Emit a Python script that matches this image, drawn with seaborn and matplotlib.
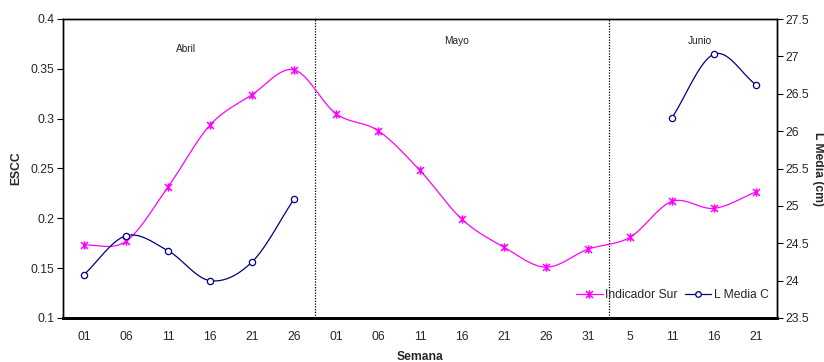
import numpy as np
import pandas as pd
import matplotlib
matplotlib.use("Agg")
import matplotlib.pyplot as plt
from matplotlib.path import Path
from matplotlib.lines import Line2D
import seaborn as sns

# Weeks grouped by month
semanas = ["01", "06", "11", "16", "21", "26",
           "01", "06", "11", "16", "21", "26", "31",
           "5", "11", "16", "21"]
meses = ["Abril", "Mayo", "Junio"]
mes_pos = [2.43, 8.86, 14.67]
mes_y = [0.370, 0.378, 0.378]

indicador_sur = [0.173, 0.177, 0.2315, 0.2935, 0.324, 0.349,
                 0.305, 0.288, 0.248, 0.199, 0.171, 0.151, 0.169,
                 0.181, 0.217, 0.210, 0.2265]
l_media_c = [24.08, 24.60, 24.40, 24.00, 24.25, 25.09,
             np.nan, np.nan, np.nan, np.nan, np.nan, np.nan, np.nan,
             np.nan, 26.18, 27.03, 26.62]

left_ticks = [0.1, 0.15, 0.2, 0.25, 0.3, 0.35, 0.4]
left_labels = ["0.1", "0.15", "0.2", "0.25", "0.3", "0.35", "0.4"]
right_ticks = [23.5, 24, 24.5, 25, 25.5, 26, 26.5, 27, 27.5]
right_labels = ["23.5", "24", "24.5", "25", "25.5", "26", "26.5", "27", "27.5"]

MAGENTA = "#FF00FF"
NAVY = "#000080"


def smooth_segment(x, y, n=24):
    """Cubic Hermite (Catmull-Rom) curve through evenly spaced points."""
    x = np.asarray(x, float)
    y = np.asarray(y, float)
    if len(x) < 2:
        return x, y
    m = np.empty_like(y)
    m[1:-1] = (y[2:] - y[:-2]) / 2.0
    m[0] = y[1] - y[0]
    m[-1] = y[-1] - y[-2]
    xs, ys = [], []
    for i in range(len(x) - 1):
        t = np.linspace(0, 1, n, endpoint=(i == len(x) - 2))
        h00 = 2 * t**3 - 3 * t**2 + 1
        h10 = t**3 - 2 * t**2 + t
        h01 = -2 * t**3 + 3 * t**2
        h11 = t**3 - t**2
        ys.append(h00 * y[i] + h10 * m[i] + h01 * y[i + 1] + h11 * m[i + 1])
        xs.append(x[i] + t * (x[i + 1] - x[i]))
    return np.concatenate(xs), np.concatenate(ys)


def smooth_series(values, series_name):
    """Split at gaps and smooth each run of valid points."""
    vals = np.asarray(values, float)
    idx = np.arange(len(vals))
    frames = []
    run = 0
    ok = ~np.isnan(vals)
    start = None
    for i in range(len(vals) + 1):
        if i < len(vals) and ok[i]:
            if start is None:
                start = i
        else:
            if start is not None:
                sx, sy = smooth_segment(idx[start:i], vals[start:i])
                frames.append(pd.DataFrame({"x": sx, "y": sy,
                                            "tramo": f"{series_name}{run}"}))
                run += 1
                start = None
    return pd.concat(frames, ignore_index=True)


# Asterisk marker: an X crossed by a vertical stroke
ast_path = Path(
    [(-1, -1), (1, 1), (-1, 1), (1, -1), (0, -1.2), (0, 1.2)],
    [Path.MOVETO, Path.LINETO, Path.MOVETO, Path.LINETO, Path.MOVETO, Path.LINETO],
)

sns.set_style("white")
plt.rcParams["font.family"] = ["Liberation Sans", "DejaVu Sans"]

fig = plt.figure(figsize=(8.24, 3.62), dpi=100)
ax = fig.add_axes([63 / 824, 1 - 318 / 362, 714 / 824, 299 / 362])
ax2 = ax.twinx()

x = np.arange(len(semanas))

# Indicador Sur (left axis)
df_ind = smooth_series(indicador_sur, "ind")
sns.lineplot(data=df_ind, x="x", y="y", units="tramo", estimator=None,
             color=MAGENTA, lw=0.9, ax=ax, legend=False, sort=False)
ax.plot(x, indicador_sur, ls="none", marker=ast_path, ms=6, mew=1.1,
        mec=MAGENTA, mfc="none", zorder=4)

# L Media C (right axis)
df_lm = smooth_series(l_media_c, "lm")
sns.lineplot(data=df_lm, x="x", y="y", units="tramo", estimator=None,
             color=NAVY, lw=0.9, ax=ax2, legend=False, sort=False)
ax2.plot(x, l_media_c, ls="none", marker="o", ms=4.5, mew=0.9,
         mec=NAVY, mfc="white", zorder=4)

# Month separators and names
for b in [5.5, 12.5]:
    ax.axvline(b, color="black", ls=(0, (1, 1.2)), lw=0.9, zorder=1)
for name, px, py in zip(meses, mes_pos, mes_y):
    ax.text(px, py, name, ha="center", va="center", fontsize=7.3, color="#222222")

# Axes limits and ticks
ax.set_xlim(-0.5, len(semanas) - 0.5)
ax.set_ylim(0.1, 0.4)
ax2.set_ylim(23.5, 27.5)
ax.set_yticks(left_ticks)
ax.set_yticklabels(left_labels)
ax2.set_yticks(right_ticks)
ax2.set_yticklabels(right_labels)

ax.set_xticks(np.arange(-0.5, len(semanas), 1.0))
ax.set_xticklabels([])
ax.set_xticks(x, minor=True)
ax.set_xticklabels(semanas, minor=True)
ax.tick_params(axis="x", which="major", direction="inout", length=7,
               width=1, color="black")
ax.tick_params(axis="x", which="minor", length=0, pad=9, labelsize=8.7)
ax.tick_params(axis="y", direction="out", length=4, width=0.8,
               color="black", pad=2, labelsize=8.7, left=True)
ax2.tick_params(axis="y", direction="out", length=4, width=0.8,
                color="black", pad=2, labelsize=8.7, right=True)

for a in (ax, ax2):
    for s in a.spines.values():
        s.set_color("black")
        s.set_linewidth(1)
    a.spines["bottom"].set_linewidth(2)
    a.grid(False)

ax.set_xlabel("Semana", fontsize=8.7, fontweight="bold", labelpad=6)
ax.set_ylabel("ESCC", fontsize=8.7, fontweight="bold", labelpad=6)
ax2.set_ylabel("L Media (cm)", fontsize=8.7, fontweight="bold",
               rotation=270, labelpad=11)

handles = [
    Line2D([], [], color=MAGENTA, lw=0.9, marker=ast_path, ms=6, mew=1.1,
           mec=MAGENTA, mfc="none"),
    Line2D([], [], color=NAVY, lw=0.9, marker="o", ms=4, mew=0.9,
           mec=NAVY, mfc="white"),
]
ax2.legend(handles, ["Indicador Sur", "L Media C"], ncol=2, frameon=False,
           loc="center right", bbox_to_anchor=(0.995, 0.077),
           fontsize=8.7, handlelength=2.2, handletextpad=0.2,
           columnspacing=0.6, borderaxespad=0)

fig.savefig("out.png", dpi=100)
